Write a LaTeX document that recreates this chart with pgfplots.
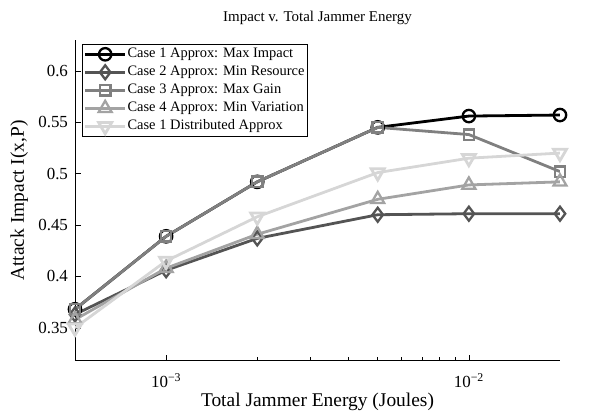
\documentclass[border=0pt]{standalone}
\usepackage{fontspec}
\setmainfont{Liberation Serif}
\usepackage{pgfplots}
\pgfplotsset{compat=1.18}
\definecolor{c1}{gray}{0}
\definecolor{c2}{gray}{0.33}
\definecolor{c3}{gray}{0.5}
\definecolor{c4}{gray}{0.64}
\definecolor{c5}{gray}{0.84}
\begin{document}
\begin{tikzpicture}
\begin{axis}[
  scale only axis, width=485bp, height=320.7bp,
  xmode=log, xmin=5e-4, xmax=2e-2, ymin=0.318, ymax=0.63,
  axis x line*=bottom, axis y line*=left,
  axis line style={-, line width=0.6bp},
  xtick={1e-3,1e-2}, xticklabels={10\textsuperscript{−3},10\textsuperscript{−2}},
  ytick={0.35,0.4,0.45,0.5,0.55,0.6},
  yticklabels={0.35,0.4,0.45,0.5,0.55,0.6},
  tick label style={font=\fontsize{17}{19}\selectfont},
  xticklabel style={anchor=base, yshift=-27bp},
  yticklabel style={xshift=-3.5bp},
  major tick length=6bp, minor tick length=3.5bp,
  tick style={black, line width=0.6bp},
  title={Impact v. Total Jammer Energy},
  title style={font=\fontsize{15}{17}\selectfont, at={(0.5,1)}, anchor=base, yshift=13bp},
  xlabel={Total Jammer Energy (Joules)},
  ylabel={Attack Impact I(x,P)},
  label style={font=\fontsize{19.5}{22}\selectfont},
  xlabel style={at={(axis description cs:0.5,0)}, anchor=base, yshift=-46bp},
  ylabel style={at={([xshift=-51bp]axis description cs:0,0.5)}, anchor=base},
  legend style={at={(0.0144,0.9875)}, anchor=north west, draw=black, line width=0.6bp,
    font=\fontsize{14.5}{16}\selectfont, inner sep=1.5bp, row sep=1bp,
    nodes={inner sep=1bp, text height=11bp, text depth=4bp}},
  legend cell align=left,
  legend image code/.code={\draw[mark repeat=2,mark phase=2] plot coordinates {(0bp,0bp)(20bp,0bp)(40bp,0bp)};},
  every axis plot/.append style={line width=2.8bp, mark options={solid, fill=white, line width=2.3bp}},
]
\addplot[c1, mark=o, mark size=6.2bp] coordinates {(5e-4,0.368)(1e-3,0.439)(2e-3,0.492)(5e-3,0.545)(1e-2,0.556)(2e-2,0.557)};
\addlegendentry{Case 1 Approx: Max Impact}
\addplot[c2, mark=diamond, mark size=7bp] coordinates {(5e-4,0.363)(1e-3,0.406)(2e-3,0.437)(5e-3,0.460)(1e-2,0.461)(2e-2,0.461)};
\addlegendentry{Case 2 Approx: Min Resource}
\addplot[c3, mark=square, mark size=5.2bp] coordinates {(5e-4,0.368)(1e-3,0.439)(2e-3,0.492)(5e-3,0.545)(1e-2,0.538)(2e-2,0.502)};
\addlegendentry{Case 3 Approx: Max Gain}
\addplot[c4, mark=triangle, mark size=7.5bp] coordinates {(5e-4,0.358)(1e-3,0.408)(2e-3,0.441)(5e-3,0.475)(1e-2,0.489)(2e-2,0.492)};
\addlegendentry{Case 4 Approx: Min Variation}
\addplot[c5, mark=triangle, mark size=7.5bp, mark options={rotate=180}] coordinates {(5e-4,0.350)(1e-3,0.415)(2e-3,0.458)(5e-3,0.501)(1e-2,0.515)(2e-2,0.520)};
\addlegendentry{Case 1 Distributed Approx}
\end{axis}
\path ([xshift=-75bp,yshift=-53.3bp]current axis.south west) rectangle ++(598bp,414bp);
\end{tikzpicture}
\end{document}
